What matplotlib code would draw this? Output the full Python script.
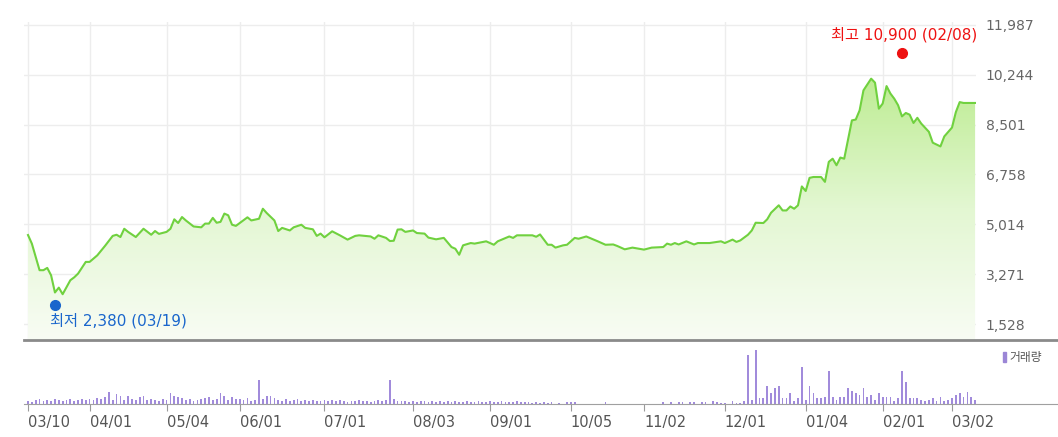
import numpy as np
import matplotlib
matplotlib.use("Agg")
import matplotlib.pyplot as plt
from matplotlib.colors import LinearSegmentedColormap
from matplotlib.patches import Rectangle

# ------------------------------------------------------
# data (x = trading-day index, 0 = 2020-03-10)
# ------------------------------------------------------
price_day = [0, 1, 3, 4, 5, 6, 7, 8, 9, 11, 12, 13, 15, 16, 18, 20, 22, 23, 24, 25,
             26, 28, 30, 32, 33, 34, 36, 37, 38, 39, 40, 41, 43, 45, 46, 47, 48, 49, 50, 51,
             52, 53, 54, 57, 58, 60, 61, 62, 64, 65, 66, 68, 69, 71, 72, 74, 75, 76, 77, 79,
             81, 83, 85, 86, 89, 90, 91, 93, 94, 95, 96, 97, 98, 100, 101, 103, 104, 106, 108, 110,
             111, 112, 113, 115, 116, 119, 121, 122, 125, 126, 127, 131, 132, 133, 135, 136, 137, 139, 140, 142,
             143, 145, 148, 150, 152, 153, 155, 157, 160, 162, 165, 166, 167, 168, 169, 171, 173, 174, 177, 180,
             181, 183, 184, 185, 187, 188, 189, 191, 192, 193, 195, 196, 197, 198, 199, 200, 201, 202, 203, 204,
             206, 207, 208, 209, 210, 211, 212, 214, 215, 216, 217, 219, 220, 221, 222, 223, 224, 225, 226, 227,
             228, 229, 230, 231, 232, 234, 235, 237, 238, 240, 241, 242, 243, 246]
price = [4640, 4340, 3410, 3410, 3490, 3230, 2630, 2800, 2570, 3060, 3160, 3290, 3700, 3700, 3930, 4260, 4610, 4650, 4570, 4860,
         4750, 4570, 4860, 4650, 4780, 4680, 4750, 4860, 5190, 5060, 5270, 5150, 4940, 4910, 5040, 5040, 5240, 5070, 5100, 5390,
         5330, 5000, 4960, 5260, 5150, 5210, 5560, 5410, 5150, 4780, 4890, 4800, 4910, 5000, 4890, 4840, 4610, 4690, 4560, 4770,
         4630, 4480, 4610, 4630, 4590, 4510, 4630, 4540, 4430, 4440, 4830, 4840, 4750, 4800, 4710, 4690, 4550, 4490, 4540, 4220,
         4160, 3950, 4280, 4360, 4340, 4420, 4300, 4420, 4590, 4540, 4630, 4630, 4580, 4660, 4300, 4300, 4200, 4280, 4300, 4540,
         4510, 4590, 4420, 4300, 4310, 4260, 4140, 4200, 4130, 4200, 4220, 4340, 4300, 4360, 4310, 4420, 4310, 4360, 4360, 4420,
         4360, 4480, 4400, 4450, 4650, 4800, 5070, 5060, 5190, 5420, 5680, 5500, 5500, 5640, 5560, 5680, 6340, 6180, 6640, 6670,
         6670, 6500, 7200, 7310, 7080, 7350, 7310, 8650, 8680, 9000, 9700, 10110, 9970, 9060, 9240, 9850, 9590, 9410, 9180, 8790,
         8910, 8850, 8560, 8740, 8540, 8250, 7870, 7740, 8090, 8400, 8940, 9290, 9260, 9260]

volume = [3, 2, 4, 5, 3, 4, 3, 5, 4, 3,
          4, 5, 3, 4, 5, 4, 5, 4, 6, 5,
          7, 12, 4, 10, 8, 4, 8, 5, 4, 7,
          8, 4, 5, 4, 3, 5, 4, 11, 8, 7,
          6, 4, 5, 3, 4, 5, 6, 7, 4, 5,
          11, 8, 4, 7, 5, 5, 4, 6, 3, 4,
          24, 5, 8, 8, 6, 4, 3, 5, 3, 4,
          5, 3, 4, 3, 4, 3, 3, 4, 3, 4,
          3, 4, 3, 2, 3, 3, 4, 3, 3, 2,
          3, 4, 3, 4, 24, 5, 3, 3, 3, 2,
          3, 2, 3, 3, 2, 3, 2, 3, 2, 3,
          2, 3, 2, 2, 3, 2, 2, 3, 2, 2,
          3, 2, 2, 3, 2, 2, 2, 3, 2, 2,
          2, 1, 2, 1, 2, 1, 2, 0, 1, 0,
          2, 2, 2, 0, 0, 0, 0, 0, 0, 0,
          2, 0, 0, 0, 0, 0, 0, 0, 0, 0,
          0, 0, 0, 0, 0, 2, 0, 2, 0, 2,
          2, 0, 2, 2, 0, 2, 2, 0, 3, 2,
          1, 1, 0, 3, 1.5, 1.5, 3, 49, 4, 54,
          6, 6, 18, 11, 16, 18, 6, 6, 11, 3,
          6, 37, 4, 18, 11, 6, 6, 7, 33, 7,
          4, 7, 7, 16, 13, 11, 9, 16, 7, 9,
          4, 11, 7, 7, 7, 3, 6, 33, 22, 6,
          6, 6, 4, 3, 4, 6, 3, 7, 3, 4,
          6, 9, 11, 7, 12, 7, 4]
vol_day = list(range(len(volume)))

tick_day = [0, 16, 36, 55, 77, 100, 120, 141, 160, 181, 202, 222, 240]
tick_labels = ["03/10", "04/01", "05/04", "06/01", "07/01", "08/03", "09/01",
               "10/05", "11/02", "12/01", "01/04", "02/01", "03/02"]
y_ticks = [1528, 3271, 5014, 6758, 8501, 10244, 11987]

high_day, high_val, high_text = 227, 10900, "최고 10,900 (02/08)"
low_day, low_val, low_text = 7, 2380, "최저 2,380 (03/19)"

# ------------------------------------------------------
# layout (pixel based)
# ------------------------------------------------------
W, H = 1058, 437
fig = plt.figure(figsize=(W / 100, H / 100), dpi=100)


def px_axes(l, t, r, b):
    return fig.add_axes([l / W, 1 - b / H, (r - l) / W, (b - t) / H])


ax = px_axes(24, 22, 976, 340)
axv = px_axes(24, 340, 1058, 404)

px_day = 3.85
val_px = (y_ticks[-1] - y_ticks[0]) / 299.0
x_left = -4 / px_day
ax.set_xlim(x_left, (976 - 28) / px_day)
ax.set_ylim(y_ticks[0] - 16 * val_px, y_ticks[-1] + 3 * val_px)
y0, y1 = ax.get_ylim()

# price line + gradient fill
line_col = "#70d13f"
poly = ax.fill_between(price_day, price, y0, color="none", lw=0)
cmap = LinearSegmentedColormap.from_list("g", ["#f8fcf4", "#e3f7d2", "#bdec92"])
grad = np.linspace(0, 1, 256).reshape(-1, 1)
im = ax.imshow(grad, extent=[x_left, 250, y0, 10200], origin="lower",
               aspect="auto", cmap=cmap, zorder=1)
im.set_clip_path(poly.get_paths()[0], transform=ax.transData)
ax.set_ylim(y0, y1)
ax.set_xlim(x_left, (976 - 28) / px_day)
ax.plot(price_day, price, color=line_col, lw=1.5, zorder=3)

ax.set_xticks(tick_day)
ax.set_xticklabels([])
ax.set_yticks(y_ticks)
ax.set_yticklabels([f"{v:,}" for v in y_ticks])
ax.yaxis.tick_right()
ax.tick_params(axis="both", length=0)
ax.tick_params(axis="y", pad=7, labelsize=10, labelcolor="#666666")
ax.grid(True, color="#ededed", lw=1)
ax.set_axisbelow(True)
for s in ax.spines.values():
    s.set_visible(False)

# high / low markers
kfont = ["DejaVu Sans", "Noto Sans CJK KR"]
ax.plot(high_day, high_val + 3 * val_px, "o", color="#ee1111", ms=7, zorder=5, clip_on=False)
ax.annotate(high_text, (high_day, high_val), xytext=(75, 21), textcoords="offset pixels",
            ha="right", va="center", color="#ee1111", fontsize=11, family=kfont)
ax.plot(low_day, low_val - 5 * val_px, "o", color="#1a66cc", ms=7, zorder=5, clip_on=False)
ax.annotate(low_text, (low_day, low_val), xytext=(-5, -21), textcoords="offset pixels",
            ha="left", va="center", color="#1a66cc", fontsize=11, family=kfont)

# volume
axv.bar(vol_day, volume, width=0.45, color="#a18bdb", lw=0)
axv.set_xlim(x_left, (1058 - 28) / px_day)
axv.set_ylim(0, 64)
axv.set_yticks([])
axv.set_xticks(tick_day)
axv.set_xticklabels(tick_labels, ha="left")
axv.tick_params(axis="x", length=5, color="#9a9a9a", pad=3, labelsize=10.5, labelcolor="#555555")
for k in ["left", "right"]:
    axv.spines[k].set_visible(False)
axv.spines["top"].set_color("#8a8a8a")
axv.spines["top"].set_linewidth(2)
axv.spines["bottom"].set_color("#a0a0a0")

fig.patches.append(Rectangle((1003 / W, 1 - 362 / H), 3 / W, 10 / H,
                             transform=fig.transFigure, color="#9b86d6"))
fig.text(1009 / W, 1 - 357 / H, "거래량", ha="left", va="center", fontsize=8.5,
         color="#555555", family=["Noto Sans CJK KR", "DejaVu Sans"])

fig.savefig("out.png", dpi=100)
